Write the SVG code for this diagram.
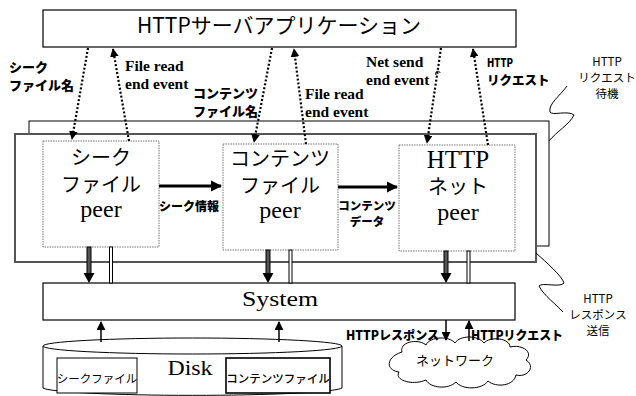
<svg xmlns="http://www.w3.org/2000/svg" width="636" height="396" viewBox="0 0 636 396">
<defs>
<marker id="ah" viewBox="0 0 10 10" refX="9" refY="5" markerWidth="4" markerHeight="4" orient="auto" markerUnits="strokeWidth"><path d="M0,0 L10,5 L0,10 z" fill="#000"/></marker>
<marker id="big" viewBox="0 0 10 10" refX="9" refY="5" markerWidth="3.5" markerHeight="3.5" orient="auto" markerUnits="strokeWidth"><path d="M0,0 L10,5 L0,10 z" fill="#000"/></marker>
<marker id="thin" viewBox="0 0 10 10" refX="9" refY="5" markerWidth="6" markerHeight="6" orient="auto" markerUnits="strokeWidth"><path d="M0,0 L10,5 L0,10 z" fill="#000"/></marker>
</defs>
<style>
.box{fill:#fff;stroke:#000;stroke-width:1.2}
.peer{fill:#fff;stroke:#777;stroke-width:1;stroke-dasharray:1.5,1}
.dot{fill:none;stroke:#000;stroke-width:2.2;stroke-dasharray:2,2;marker-end:url(#ah)}
.jp{font-family:"Noto Sans CJK JP","Liberation Sans",sans-serif}
.jb{font-family:"Noto Sans CJK JP","Liberation Sans",sans-serif;font-weight:900}
.sr{font-family:"Liberation Serif",serif}
.sb{font-family:"Liberation Serif",serif;font-weight:bold;font-size:15.5px}
.sq{fill:none;stroke:#000;stroke-width:1}
</style>
<g id="app"><rect class="box" x="43" y="10" width="473" height="37"/>
<text class="jp" x="279" y="33" font-size="21" text-anchor="middle">HTTPサーバアプリケーション</text></g>
<g id="back-panel"><rect x="29" y="121" width="520" height="125" fill="#fff" stroke="#000" stroke-width="1"/></g>
<g id="front-panel"><rect x="15" y="134" width="521" height="128" fill="#fff" stroke="#555" stroke-width="2"/></g>
<g id="peer1"><rect class="peer" x="43" y="141" width="116" height="106"/>
<text class="jp" x="101" y="165" font-size="20" text-anchor="middle">シーク</text>
<text class="jp" x="101" y="192" font-size="20" text-anchor="middle">ファイル</text>
<text class="sr" x="101" y="217" font-size="24" text-anchor="middle">peer</text></g>
<g id="peer2"><rect class="peer" x="223" y="144" width="115" height="106"/>
<text class="jp" x="280" y="166" font-size="20" text-anchor="middle">コンテンツ</text>
<text class="jp" x="280" y="193" font-size="20" text-anchor="middle">ファイル</text>
<text class="sr" x="280" y="218" font-size="24" text-anchor="middle">peer</text></g>
<g id="peer3"><rect class="peer" x="399" y="145" width="116" height="106"/>
<text class="sr" x="458" y="168" font-size="25" text-anchor="middle">HTTP</text>
<text class="jp" x="458" y="194" font-size="20" text-anchor="middle">ネット</text>
<text class="sr" x="458" y="220" font-size="24" text-anchor="middle">peer</text></g>
<g id="system"><rect class="box" x="43" y="283" width="472" height="37"/>
<text class="sr" x="280" y="306" font-size="22" text-anchor="middle" textLength="76" lengthAdjust="spacingAndGlyphs">System</text></g>
<g id="disk">
<path d="M43,346 L43,388 A150,8 0 0 0 342,388 L342,346" fill="#fff" stroke="#000" stroke-width="1"/>
<ellipse cx="192.5" cy="346" rx="149.5" ry="8" fill="#fff" stroke="#000" stroke-width="1"/>
<text class="sr" x="190" y="375" font-size="22" text-anchor="middle" textLength="45" lengthAdjust="spacingAndGlyphs">Disk</text>
<rect x="57" y="358" width="80" height="35" fill="#fff" stroke="#000" stroke-width="1"/>
<text class="jp" x="97" y="383" font-size="11.5" text-anchor="middle">シークファイル</text>
<rect x="226" y="358" width="104" height="35" fill="#fff" stroke="#000" stroke-width="1.6"/>
<text class="jp" x="278" y="383" font-size="11.5" text-anchor="middle" font-weight="500">コンテンツファイル</text>
</g>
<g id="network">
<path d="M402,352 C399,342 418,338 426,345 C430,336 450,336 455,343 C460,335 478,335 484,343 C490,336 510,338 510,347 C522,344 534,352 526,360 C536,366 528,378 516,375 C514,386 496,388 488,381 C482,390 462,390 456,382 C448,390 430,388 426,380 C412,386 394,380 399,372 C385,370 386,357 402,352 Z" fill="#fff" stroke="#000" stroke-width="1"/>
<text class="jp" x="455" y="365" font-size="13" text-anchor="middle">ネットワーク</text>
</g>
<g id="connectors">
<path class="dot" d="M88,48 L72,139"/>
<path class="dot" d="M129,141 L113,49"/>
<path class="dot" d="M272,48 L254,142"/>
<path class="dot" d="M306,144 L294,49"/>
<path class="dot" d="M441,48 L427,143"/>
<path class="dot" d="M488,145 L473,49"/>
<path d="M436,75 C434,71 440,70 440,73" fill="none" stroke="#000" stroke-width="1"/>
<line x1="159" y1="186" x2="221" y2="186" stroke="#000" stroke-width="3.2" marker-end="url(#big)"/>
<line x1="338" y1="187" x2="397" y2="187" stroke="#000" stroke-width="3.2" marker-end="url(#big)"/>
<g id="down-arrows">
<rect x="87" y="247" width="4" height="27" fill="#555" stroke="#000" stroke-width="1"/>
<path d="M83.5,273 L94.5,273 L89,283 z" fill="#000"/>
<rect x="266" y="250" width="4" height="24" fill="#555" stroke="#000" stroke-width="1"/>
<path d="M262.5,273 L273.5,273 L268,283 z" fill="#000"/>
<rect x="444" y="251" width="4" height="23" fill="#555" stroke="#000" stroke-width="1"/>
<path d="M440.5,273 L451.5,273 L446,283 z" fill="#000"/>
</g>
<g id="double-lines" fill="#fff" stroke="#000" stroke-width="1">
<rect x="109.5" y="247" width="3" height="36"/>
<rect x="289" y="250" width="3" height="33"/>
<rect x="467" y="251" width="3" height="32"/>
</g>
<line x1="101" y1="342" x2="101" y2="322" stroke="#000" stroke-width="1.5" marker-end="url(#thin)"/>
<line x1="279" y1="342" x2="279" y2="322" stroke="#000" stroke-width="1.5" marker-end="url(#thin)"/>
<line x1="446" y1="320" x2="446" y2="340" stroke="#000" stroke-width="1.5" marker-end="url(#thin)"/>
<line x1="469" y1="341" x2="469" y2="321" stroke="#000" stroke-width="1.5" marker-end="url(#thin)"/>
<path class="sq" d="M567,86 C560,96 548,104 550,112 C552,116 568,110 574,115 C570,124 556,132 549,141"/>
<path class="sq" d="M536,253 C546,262 562,276 564,283 C560,288 542,282 539,286 C544,296 556,304 563,312"/>
</g>
<g id="labels">
<text class="jb" x="9" y="72" font-size="13">シーク</text>
<text class="jb" x="9" y="90" font-size="13">ファイル名</text>
<text class="sb" x="125" y="71">File read</text>
<text class="sb" x="125" y="89">end event</text>
<text class="jb" x="193" y="98" font-size="13">コンテンツ</text>
<text class="jb" x="193" y="116" font-size="13">ファイル名</text>
<text class="sb" x="305" y="99">File read</text>
<text class="sb" x="305" y="117">end event</text>
<text class="sb" x="366" y="67">Net send</text>
<text class="sb" x="366" y="85">end event</text>
<text class="jb" x="487" y="67" font-size="11" textLength="26" lengthAdjust="spacingAndGlyphs">HTTP</text>
<text class="jb" x="487" y="85" font-size="12.5">リクエスト</text>
<text class="jp" x="607" y="66" font-size="11.5" text-anchor="middle">HTTP</text>
<text class="jp" x="607" y="82" font-size="11.5" text-anchor="middle">リクエスト</text>
<text class="jp" x="607" y="98" font-size="11.5" text-anchor="middle">待機</text>
<text class="jp" x="598" y="303" font-size="11.5" text-anchor="middle">HTTP</text>
<text class="jp" x="598" y="319" font-size="11.5" text-anchor="middle">レスポンス</text>
<text class="jp" x="598" y="335" font-size="11.5" text-anchor="middle">送信</text>
<text class="jb" x="189" y="211" font-size="12" text-anchor="middle">シーク情報</text>
<text class="jb" x="367" y="210" font-size="11.5" text-anchor="middle">コンテンツ</text>
<text class="jb" x="367" y="226" font-size="11.5" text-anchor="middle">データ</text>
<text class="jb" x="346" y="340" font-size="12.5" textLength="93" lengthAdjust="spacingAndGlyphs">HTTPレスポンス</text>
<text class="jb" x="471" y="340" font-size="12.5" textLength="92" lengthAdjust="spacingAndGlyphs">HTTPリクエスト</text>
</g>
</svg>
